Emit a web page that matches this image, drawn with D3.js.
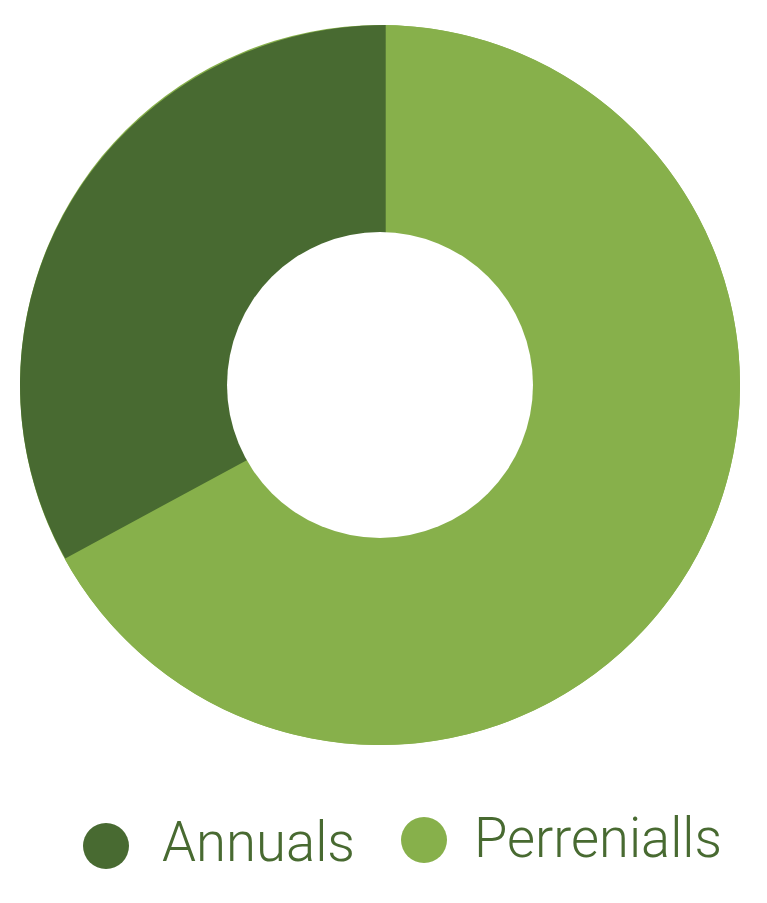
<!DOCTYPE html>
<html>
<head>
<meta charset="utf-8">
<script src="https://cdn.jsdelivr.net/npm/d3@7"></script>
<style>
  html, body { margin: 0; padding: 0; background: #ffffff; }
  svg { display: block; }
</style>
</head>
<body>
<script>
const categories = ["Annuals", "Perrenialls"];
const values = [33, 67];
const colors = ["#486a31", "#87b04b"];

const W = 767, H = 903;
const cx = 380, cy = 385, rOuter = 360, rInner = 153;

const svg = d3.select("body").append("svg")
  .attr("width", W).attr("height", H);

const total = d3.sum(values);
const a0 = -2 * Math.PI * values[0] / total;
const pie = d3.pie().sort(null).value(d => d.value)
  .startAngle(a0)
  .endAngle(2 * Math.PI + a0);

const data = categories.map((c, i) => ({ name: c, value: values[i], color: colors[i] }));
const arcs = pie(data);
const arc = d3.arc().innerRadius(rInner - 20).outerRadius(rOuter);

// base ring in the larger slice colour
svg.append("circle").attr("cx", cx).attr("cy", cy).attr("r", rOuter).attr("fill", colors[1]);

// Perrenialls slice, centred
svg.append("g").attr("transform", `translate(${cx},${cy})`)
  .selectAll("path").data(arcs.filter(d => d.data.name === "Perrenialls")).join("path")
  .attr("d", arc).attr("fill", d => d.data.color);

// Annuals slice, slightly offset as in the original
svg.append("g").attr("transform", `translate(${cx + 5.7},${cy}) scale(1.0158,1)`)
  .selectAll("path").data(arcs.filter(d => d.data.name === "Annuals")).join("path")
  .attr("d", arc).attr("fill", d => d.data.color);

// hole
svg.append("circle").attr("cx", cx).attr("cy", cy).attr("r", rInner).attr("fill", "#ffffff");

// legend
const legend = [
  { x: 106, y: 846, tx: 162, ty: 861, w: 193 },
  { x: 424, y: 840, tx: 474, ty: 857, w: 248 }
];
const lg = svg.append("g");
data.forEach((d, i) => {
  const L = legend[i];
  lg.append("circle").attr("cx", L.x).attr("cy", L.y).attr("r", 23).attr("fill", d.color);
  lg.append("text")
    .attr("x", L.tx).attr("y", L.ty)
    .attr("font-family", "Roboto, 'Liberation Sans', sans-serif")
    .attr("font-weight", 300)
    .attr("font-size", 55)
    .attr("fill", "#486a31")
    .attr("textLength", L.w)
    .attr("lengthAdjust", "spacingAndGlyphs")
    .text(d.name);
});
</script>
</body>
</html>
